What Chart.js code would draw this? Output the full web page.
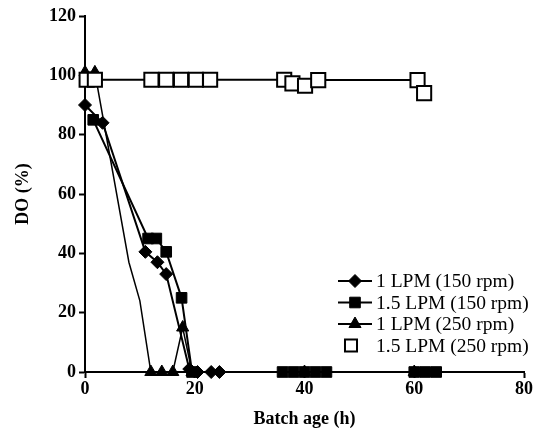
<!DOCTYPE html>
<html>
<head>
<meta charset="utf-8">
<script src="https://cdn.jsdelivr.net/npm/chart.js@4/dist/chart.umd.min.js"></script>
<style>
  html, body { margin: 0; padding: 0; background: #fff; }
  #wrap { width: 538px; height: 434px; position: relative; }
</style>
</head>
<body>
<div id="wrap"><canvas id="c" width="538" height="434"></canvas></div>
<script>
// ---- data ----
const seriesNames = ['1 LPM (150 rpm)', '1.5 LPM (150 rpm)', '1 LPM (250 rpm)', '1.5 LPM (250 rpm)'];

const lpm1_150_x = [0, 3.2, 11, 13.2, 14.8, 19, 20.5, 23, 24.5];
const lpm1_150_y = [90, 84, 40.5, 37, 33, 1, 0, 0, 0];

const lpm15_150_x = [1.5, 11.5, 13, 14.8, 17.6, 19.5, 36, 38, 40, 42, 44, 60, 62, 64];
const lpm15_150_y = [85, 45, 45, 40.5, 25, 0, 0, 0, 0, 0, 0, 0, 0, 0];

const lpm1_250_x = [0, 1.8, 8, 10, 12, 14, 16, 17.8, 19.5, 40, 60];
const lpm1_250_y = [101, 101, 37, 24, 0, 0, 0, 15, 0, 0, 0];
const lpm1_250_marked = [1, 1, 0, 0, 1, 1, 1, 1, 1, 1, 1];

const lpm15_250_x = [0.3, 1.8, 12.1, 14.8, 17.5, 20.2, 22.8, 36.3, 37.8, 40.1, 42.5, 60.6, 61.8];
const lpm15_250_y = [98.5, 98.5, 98.5, 98.5, 98.5, 98.5, 98.5, 98.5, 97.3, 96.5, 98.4, 98.4, 94];

const xTicks = [0, 20, 40, 60, 80];
const yTicks = [0, 20, 40, 60, 80, 100, 120];

const toPts = (xs, ys) => xs.map((x, i) => ({ x: x, y: ys[i] }));

// ---- styles ----
const tickFont = { family: 'Liberation Serif', size: 18, weight: 'bold' };
const legendFont = '19.5px "Liberation Serif"';

const styles = [
  { pointStyle: 'rectRot', radius: 6.5, fill: '#000', border: '#000', bw: 1, lw: 2, line: true },
  { pointStyle: 'rect', radius: 7.5, fill: '#000', border: '#000', bw: 1, lw: 2, line: true },
  { pointStyle: 'triangle', radius: 7, fill: '#000', border: '#000', bw: 1, lw: 1.5, line: true },
  { pointStyle: 'rect', radius: 10, fill: '#fff', border: '#000', bw: 2, lw: 2, line: false }
];

const datasets = [
  { label: seriesNames[0], data: toPts(lpm1_150_x, lpm1_150_y) },
  { label: seriesNames[1], data: toPts(lpm15_150_x, lpm15_150_y) },
  { label: seriesNames[2], data: toPts(lpm1_250_x, lpm1_250_y) },
  { label: seriesNames[3], data: toPts(lpm15_250_x, lpm15_250_y) }
].map((d, i) => {
  const s = styles[i];
  let radius = s.radius;
  if (i === 2) radius = lpm1_250_marked.map(m => m ? s.radius : 0);
  return Object.assign(d, {
    showLine: true,
    borderColor: '#000',
    backgroundColor: s.fill,
    borderWidth: s.lw,
    pointStyle: s.pointStyle,
    pointRadius: radius,
    pointHoverRadius: radius,
    pointBackgroundColor: s.fill,
    pointBorderColor: s.border,
    pointBorderWidth: s.bw,
    tension: 0,
    clip: false,
    order: 3 - i
  });
});

// legend drawn in the chart area, bottom right
const legendPlugin = {
  id: 'insideLegend',
  afterDraw(chart) {
    const ctx = chart.ctx;
    const rowsY = [281, 302.5, 324, 345.5];
    ctx.save();
    ctx.font = legendFont;
    ctx.fillStyle = '#000';
    ctx.textBaseline = 'middle';
    ctx.textAlign = 'left';
    seriesNames.forEach((name, i) => {
      const s = styles[i];
      const y = rowsY[i];
      if (s.line) {
        ctx.strokeStyle = '#000';
        ctx.lineWidth = 2;
        ctx.beginPath();
        ctx.moveTo(338, y);
        ctx.lineTo(372, y);
        ctx.stroke();
      }
      ctx.fillStyle = s.fill;
      ctx.strokeStyle = s.border;
      ctx.lineWidth = s.bw;
      const cx = s.line ? 355 : 351;
      Chart.helpers.drawPoint(ctx, { pointStyle: s.pointStyle, radius: i === 3 ? 8.5 : s.radius, borderWidth: s.bw }, cx, y);
      ctx.fillStyle = '#000';
      ctx.fillText(name, 376, y + 1);
    });
    ctx.restore();
  }
};

new Chart(document.getElementById('c'), {
  type: 'scatter',
  data: { datasets },
  plugins: [legendPlugin],
  options: {
    responsive: false,
    animation: false,
    devicePixelRatio: 1,
    layout: { padding: { top: 16, right: 14, bottom: 0, left: 0 } },
    plugins: { legend: { display: false }, tooltip: { enabled: false } },
    scales: {
      x: {
        type: 'linear',
        min: 0, max: 80,
        afterBuildTicks: (sc) => { sc.ticks = xTicks.map(v => ({ value: v })); },
        afterFit: (sc) => { sc.height = 62; },
        grid: { display: true, drawOnChartArea: false, drawTicks: true, tickLength: 6, tickWidth: 2, tickColor: '#000' },
        border: { display: true, color: '#000', width: 2 },
        ticks: { color: '#000', font: tickFont, padding: 1, maxRotation: 0 },
        title: { display: true, text: 'Batch age (h)', color: '#000', font: tickFont, padding: { top: 0, bottom: 4 } }
      },
      y: {
        type: 'linear',
        min: 0, max: 120,
        afterBuildTicks: (sc) => { sc.ticks = yTicks.map(v => ({ value: v })); },
        afterFit: (sc) => { sc.width = 85; },
        grid: { display: true, drawOnChartArea: false, drawTicks: true, tickLength: 6, tickWidth: 2, tickColor: '#000' },
        border: { display: true, color: '#000', width: 2 },
        ticks: { color: '#000', font: tickFont, padding: 3 },
        title: { display: true, text: 'DO (%)', color: '#000', font: tickFont, padding: { top: 13, bottom: 0 } }
      }
    }
  }
});
</script>
</body>
</html>
